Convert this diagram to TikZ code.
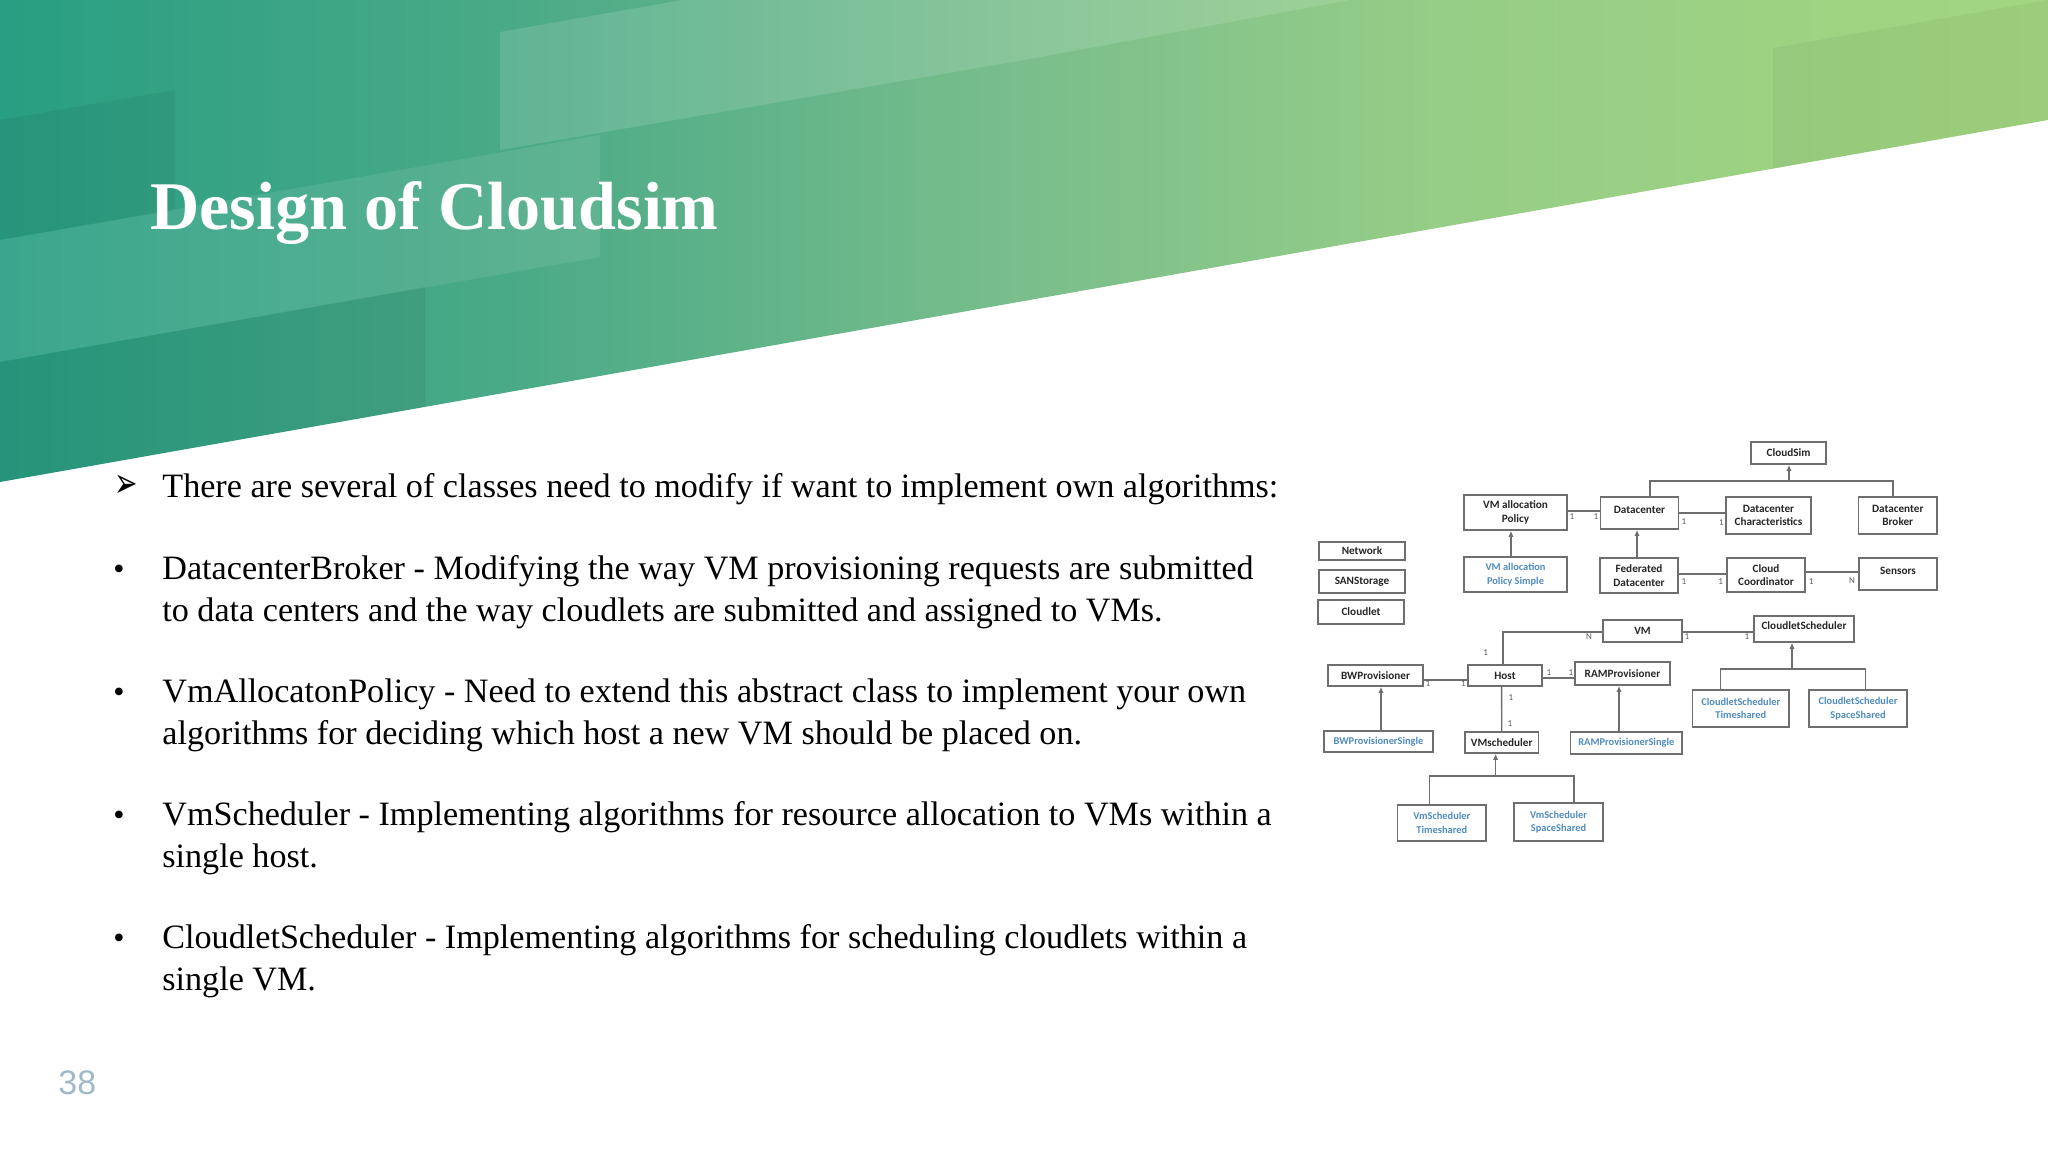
\documentclass[tikz,border=0pt]{standalone}
\usepackage{fontspec}
\setmainfont{Liberation Serif}
\newfontfamily\umlfont{Carlito}
\newfontfamily\numfont{Liberation Sans}
\newfontfamily\symfont{DejaVu Sans}
\usetikzlibrary{arrows.meta,calc}
\definecolor{umlblue}{RGB}{80,140,192}
\definecolor{umlline}{RGB}{110,110,110}
\definecolor{pagenum}{RGB}{160,185,200}
\pgfdeclarehorizontalshading{slidebg}{100bp}{
  rgb(0bp)=(0.157,0.620,0.510);
  rgb(25bp)=(0.157,0.620,0.510);
  rgb(37.5bp)=(0.290,0.667,0.529);
  rgb(50bp)=(0.478,0.745,0.549);
  rgb(60bp)=(0.588,0.804,0.529);
  rgb(75bp)=(0.639,0.839,0.502);
  rgb(100bp)=(0.639,0.839,0.502)}
\tikzset{
  x=0.5pt,y=-0.5pt,
  classbox/.style={draw=umlline,line width=0.8pt,fill=white,inner sep=0pt,align=center,text=black!85,
    font=\umlfont\bfseries\fontsize{5.6}{6.7}\selectfont},
  raised/.style={text depth=3pt},
  bluebox/.style={classbox,text=umlblue,font=\umlfont\bfseries\fontsize{5.2}{6.7}\selectfont},
  conn/.style={draw=umlline,line width=0.7pt},
  inherit/.style={conn,-{Latex[length=3pt,width=2.6pt]}},
  mult/.style={inner sep=0pt,text=black!65,font=\umlfont\fontsize{4.5}{5}\selectfont},
  bodytext/.style={anchor=base west,inner sep=0pt,align=left,font=\fontsize{17.07}{20.9}\selectfont},
  bulletmark/.style={anchor=base west,inner sep=0pt,font=\fontsize{16}{20.9}\selectfont},
}
\begin{document}
\begin{tikzpicture}
\useasboundingbox (0,0) rectangle (2048,1152);
\fill[white] (0,0) rectangle (2048,1152);
\begin{scope}
  \clip (0,0) -- (2048,0) -- (2048,120) -- (0,482) -- cycle;
  \shade[shading=slidebg] (0,0) rectangle (2048,482);
  \fill[black,opacity=0.05] (0,120) -- (175,90) -- (175,210) -- (0,240) -- cycle;
  \fill[white,opacity=0.09] (0,240) -- (600,135) -- (600,257) -- (0,362) -- cycle;
  \fill[black,opacity=0.06] (0,362) -- (425,287) -- (425,482) -- (0,482) -- cycle;
  \fill[white,opacity=0.13] (500,32) -- (682,0) -- (1350,0) -- (1024,60) -- (500,150) -- cycle;
  \fill[black,opacity=0.04] (1773,48) -- (2048,0) -- (2048,200) -- (1773,200) -- cycle;
\end{scope}

\node[anchor=base west,inner sep=0pt,text=white,font=\bfseries\fontsize{34.1}{38}\selectfont] (title) at (150,229) {Design of Cloudsim};

\node[bulletmark,font=\symfont\fontsize{14}{18}\selectfont] (b0) at (114,497) {\scalebox{1}[1.5]{➢}};
\node[bodytext] (p0) at (162,497) {There are several of classes need to modify if want to implement own algorithms:};
\node[bulletmark] (b1) at (113,579) {•};
\node[bodytext] (p1) at (162,621) {DatacenterBroker - Modifying the way VM provisioning requests are submitted\\to data centers and the way cloudlets are submitted and assigned to VMs.};
\node[bulletmark] (b2) at (113,702) {•};
\node[bodytext] (p2) at (162,744) {VmAllocatonPolicy - Need to extend this abstract class to implement your own\\algorithms for deciding which host a new VM should be placed on.};
\node[bulletmark] (b3) at (113,825) {•};
\node[bodytext] (p3) at (162,867) {VmScheduler - Implementing algorithms for resource allocation to VMs within a\\single host.};
\node[bulletmark] (b4) at (113,948) {•};
\node[bodytext] (p4) at (162,990) {CloudletScheduler - Implementing algorithms for scheduling cloudlets within a\\single VM.};

\node[anchor=base west,inner sep=0pt,text=pagenum,font=\numfont\fontsize{17}{20}\selectfont] (pg) at (58,1094) {38};

% class boxes
\node[classbox,minimum width=37.5pt,minimum height=11pt] (cloudsim) at (1788.5,453) {CloudSim};
\node[classbox,minimum width=51.5pt,minimum height=17.5pt] (allocp) at (1515.5,512.5) {VM allocation\\Policy};
\node[classbox,raised,minimum width=39pt,minimum height=16pt] (dc) at (1639.5,513) {Datacenter};
\node[classbox,minimum width=42.5pt,minimum height=18.5pt] (chars) at (1768.5,515.5) {Datacenter\\Characteristics};
\node[classbox,minimum width=39.25pt,minimum height=18.5pt] (broker) at (1897.75,515.5) {Datacenter\\Broker};
\node[classbox,minimum width=43pt,minimum height=9pt] (network) at (1362,551) {Network};
\node[classbox,minimum width=42.75pt,minimum height=11.5pt] (san) at (1362,581.5) {SANStorage};
\node[classbox,minimum width=43.25pt,minimum height=12pt] (cloudlet) at (1361,612) {Cloudlet};
\node[bluebox,minimum width=51.5pt,minimum height=17.5pt] (allocs) at (1515.5,574.5) {VM allocation\\Policy Simple};
\node[classbox,minimum width=39pt,minimum height=17.5pt] (fed) at (1639,575.5) {Federated\\Datacenter};
\node[classbox,minimum width=39pt,minimum height=17pt] (coord) at (1766,575) {Cloud\\Coordinator};
\node[classbox,raised,minimum width=39.25pt,minimum height=16pt] (sensors) at (1898,574) {Sensors};
\node[classbox,minimum width=39.5pt,minimum height=11pt] (vm) at (1642.5,631) {VM};
\node[classbox,raised,minimum width=50pt,minimum height=13pt] (csched) at (1804,629) {CloudletScheduler};
\node[classbox,minimum width=47.5pt,minimum height=10.5pt] (bw) at (1375.5,675.5) {BWProvisioner};
\node[classbox,minimum width=37pt,minimum height=10.5pt] (host) at (1505,675.5) {Host};
\node[classbox,minimum width=47.5pt,minimum height=11.5pt] (ram) at (1622.5,673.5) {RAMProvisioner};
\node[bluebox,minimum width=54.5pt,minimum height=10.5pt] (bws) at (1378.5,741.5) {BWProvisionerSingle};
\node[classbox,minimum width=36.75pt,minimum height=10.5pt] (vms) at (1501.75,742.5) {VMscheduler};
\node[bluebox,minimum width=55.7pt,minimum height=11pt] (rams) at (1626.3,743) {RAMProvisionerSingle};
\node[bluebox,minimum width=48.25pt,minimum height=18.5pt] (cst) at (1740.75,708.5) {CloudletScheduler\\Timeshared};
\node[bluebox,minimum width=49pt,minimum height=18.5pt] (css) at (1858,708.5) {CloudletScheduler\\SpaceShared};
\node[bluebox,minimum width=44.2pt,minimum height=18pt] (vst) at (1441.8,823) {VmScheduler\\Timeshared};
\node[bluebox,minimum width=44.5pt,minimum height=19pt] (vss) at (1558.5,822) {VmScheduler\\SpaceShared};

% trees
\coordinate (simbus) at (1789,481);
\draw[conn] ([xshift=5.25pt]dc.north) |- (simbus) -| ([xshift=-2.4pt]broker.north);
\draw[inherit] (simbus) -- (simbus |- cloudsim.south);
\coordinate (csbus) at (1792,669);
\draw[conn] ([xshift=-10.07pt]cst.north) |- (csbus) -| ([xshift=3.75pt]css.north);
\draw[inherit] (csbus) -- (csbus |- csched.south);
\coordinate (vsbus) at (1495.6,776);
\draw[conn] ([xshift=-6.05pt]vst.north) |- (vsbus) -| ([xshift=7.75pt]vss.north);
\draw[inherit] (vsbus) -- (vsbus |- vms.south);

% associations
\draw[conn] ([yshift=0.75pt]allocp.east) -- ([yshift=1pt]dc.west);
\draw[conn] (dc.east) -- ([yshift=1.25pt]chars.west);
\draw[conn] ([yshift=0.75pt]fed.east) -- ([yshift=0.5pt]coord.west);
\draw[conn] ([yshift=1.5pt]coord.east) -- ([yshift=1pt]sensors.west);
\draw[conn] ([yshift=-0.5pt]vm.east) -- ([yshift=-1.5pt]csched.west);
\draw[conn] ([yshift=-0.5pt]vm.west) -| ([xshift=-1pt]host.north);
\draw[conn] ([yshift=-2.25pt]bw.east) -- ([yshift=-2.25pt]host.west);
\draw[conn] ([yshift=-1.25pt]host.east) -- ([yshift=-2.25pt]ram.west);
\draw[conn] ([xshift=-1.7pt]host.south) -- (vms.north);

% inheritance
\draw[inherit] ([xshift=-2.25pt]allocs.north) -- ([xshift=-2.25pt]allocp.south);
\draw[inherit] ([xshift=-1pt]fed.north) -- ([xshift=-1.25pt]dc.south);
\draw[inherit] ([xshift=1.25pt]bws.north) -- ([xshift=2.75pt]bw.south);
\draw[inherit] ([xshift=-3.65pt]rams.north) -- ([xshift=-1.75pt]ram.south);

% multiplicities
\node[mult] (m1) at (1572,517) {1};
\node[mult] (m2) at (1596,517) {1};
\node[mult] (m3) at (1684,522) {1};
\node[mult] (m4) at (1721.5,523) {1};
\node[mult] (m5) at (1684,582) {1};
\node[mult] (m6) at (1720.6,582) {1};
\node[mult] (m7) at (1811,582) {1};
\node[mult] (m8) at (1852,581) {N};
\node[mult] (m9) at (1589,637) {N};
\node[mult] (m10) at (1687,637) {1};
\node[mult] (m11) at (1747,637) {1};
\node[mult] (m12) at (1485.6,653) {1};
\node[mult] (m13) at (1428,684) {1};
\node[mult] (m14) at (1463.5,684) {1};
\node[mult] (m15) at (1549,673) {1};
\node[mult] (m16) at (1571,673) {1};
\node[mult] (m17) at (1511,698) {1};
\node[mult] (m18) at (1510,724) {1};
\end{tikzpicture}
\end{document}
